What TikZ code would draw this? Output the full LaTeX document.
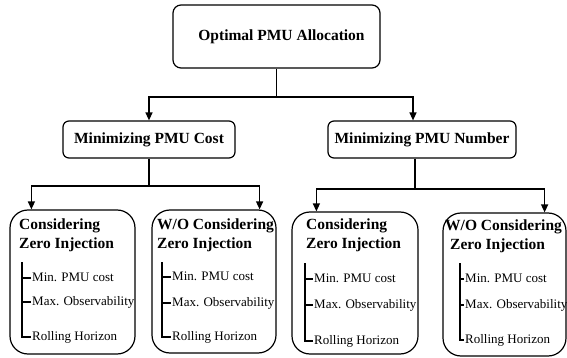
\documentclass[tikz,border=0pt]{standalone}
\usepackage{fontspec}
\setmainfont{Liberation Serif}
\usetikzlibrary{arrows.meta}

\tikzset{
  topbox/.style={draw, line width=1.2pt, rounded corners=8pt, minimum width=207pt, minimum height=63pt, inner sep=0pt, font=\fontsize{15.5}{19}\selectfont\bfseries},
  midbox/.style={draw, line width=1.2pt, rounded corners=6pt, minimum height=37pt, inner sep=0pt, font=\fontsize{15.5}{19}\selectfont\bfseries},
  casebox/.style={draw, line width=1.2pt, rounded corners=18pt, inner sep=0pt},
  casetitle/.style={anchor=north west, inner sep=0pt, align=left, font=\fontsize{15.5}{19}\selectfont\bfseries},
  item/.style={anchor=west, inner xsep=1pt, inner ysep=0pt, text height=9pt, text depth=2.6pt, font=\fontsize{13}{16}\selectfont},
  link/.style={line width=1.3pt},
  arr/.style={line width=1.3pt, -{Triangle[length=8pt,width=7pt]}},
}

\begin{document}
\begin{tikzpicture}[x=1pt,y=-1pt]
\useasboundingbox (0,0) rectangle (567,358);

% boxes
\node[topbox] (top) at (276.5,36.5) {\raisebox{3pt}{\hspace*{10pt}Optimal PMU Allocation}};
\node[midbox, minimum width=172pt] (cost) at (149,139.5) {Minimizing PMU Cost};
\node[midbox, minimum width=188pt] (num) at (422,139.5) {Minimizing PMU Number};

\node[casebox, minimum width=125pt, minimum height=144pt] (zi1) at (72.5,282) {};
\node[casebox, minimum width=124pt, minimum height=143pt] (wo1) at (214,281.5) {};
\node[casebox, minimum width=126pt, minimum height=142pt] (zi2) at (355,283) {};
\node[casebox, minimum width=123pt, minimum height=143pt] (wo2) at (504.5,284.5) {};

% titles
\node[casetitle] (zi1t) at (19,218.5) {Considering\\Zero Injection};
\node[casetitle] (wo1t) at (157,218.5) {W/O Considering\\Zero Injection};
\node[casetitle] (zi2t) at (306,219) {Considering\\Zero Injection};
\node[casetitle] (wo2t) at (450,219.5) {\hspace*{-5pt}W/O Considering\\Zero Injection};

% items
\coordinate (zi1b) at (22,262);
\node[item] (zi1a) at (31,278) {Min. PMU cost};
\node[item] (zi1m) at (31,302) {Max. Observability};
\node[item] (zi1r) at (31,337) {Rolling Horizon};

\coordinate (wo1b) at (162,262);
\node[item] (wo1a) at (171,277) {Min. PMU cost};
\node[item] (wo1m) at (171,303) {Max. Observability};
\node[item] (wo1r) at (171,337) {Rolling Horizon};

\coordinate (zi2b) at (305,263);
\node[item] (zi2a) at (313,279) {Min. PMU cost};
\node[item] (zi2m) at (313,305) {Max. Observability};
\node[item] (zi2r) at (313,341) {Rolling Horizon};

\coordinate (wo2b) at (460,263);
\node[item] (wo2a) at (464,279) {Min. PMU cost};
\node[item] (wo2m) at (464,305) {Max. Observability};
\node[item] (wo2r) at (464,340) {Rolling Horizon};

\draw[link] (zi1b) |- (zi1r.west);
\draw[link] (zi1b |- zi1a.west) -- (zi1a.west);
\draw[link] (zi1b |- zi1m.west) -- (zi1m.west);
\draw[link] (wo1b) |- (wo1r.west);
\draw[link] (wo1b |- wo1a.west) -- (wo1a.west);
\draw[link] (wo1b |- wo1m.west) -- (wo1m.west);
\draw[link] (zi2b) |- (zi2r.west);
\draw[link] (zi2b |- zi2a.west) -- (zi2a.west);
\draw[link] (zi2b |- zi2m.west) -- (zi2m.west);
\draw[link] (wo2b) |- (wo2r.west);
\draw[link] (wo2b |- wo2a.west) -- (wo2a.west);
\draw[link] (wo2b |- wo2m.west) -- (wo2m.west);

% connectors
\coordinate (split0) at (276.5,97);
\draw[link] (top.south) -- (split0);
\draw[arr] (split0) -| (cost.north);
\draw[arr] (split0) -| ([xshift=-9pt]num.north);

\coordinate (split1) at (149,186);
\draw[link] (cost.south) -- (split1);
\draw[arr] (split1) -| ([xshift=22pt]zi1.north west);
\draw[arr] (split1) -| ([xshift=-17pt]wo1.north east);

\coordinate (split2) at (415,189);
\draw[link] ([xshift=-7pt]num.south) -- (split2);
\draw[arr] (split2) -| ([xshift=25pt]zi2.north west);
\draw[arr] (split2) -| ([xshift=-22pt]wo2.north east);
\end{tikzpicture}
\end{document}
